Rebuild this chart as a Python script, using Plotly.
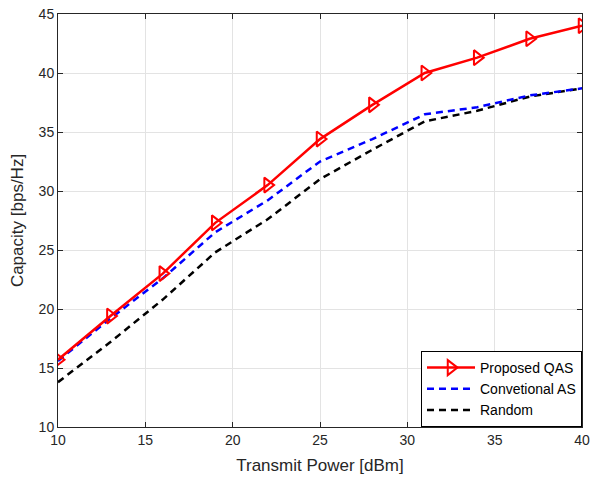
import plotly.graph_objects as go

power = [10, 13, 16, 19, 22, 25, 28, 31, 34, 37, 40]
proposed = [15.7, 19.4, 23.0, 27.3, 30.5, 34.4, 37.3, 40.0, 41.3, 42.9, 44.0]
conventional = [15.6, 19.2, 22.6, 26.5, 29.2, 32.5, 34.4, 36.5, 37.1, 38.1, 38.7]
random_sel = [13.8, 17.2, 20.8, 24.8, 27.6, 31.0, 33.5, 35.9, 36.8, 38.0, 38.7]

x_ticks = [10, 15, 20, 25, 30, 35, 40]
y_ticks = [10, 15, 20, 25, 30, 35, 40, 45]

FONT = "Liberation Sans, Arial, Helvetica"

fig = go.Figure()
fig.add_trace(go.Scatter(x=power, y=random_sel, mode="lines", name="Random",
                         line=dict(color="black", width=2.5, dash="7px,5px"), legendrank=3))
fig.add_trace(go.Scatter(x=power, y=conventional, mode="lines", name="Convetional AS",
                         line=dict(color="#0000ff", width=2.5, dash="7px,5px"), legendrank=2))
fig.add_trace(go.Scatter(x=power, y=proposed, mode="lines+markers", name="Proposed QAS",
                         line=dict(color="#ff0000", width=2.5),
                         marker=dict(symbol="triangle-right-open", size=13, color="#ff0000",
                                     line=dict(color="#ff0000", width=2)), legendrank=1))

axis_common = dict(showgrid=True, gridcolor="#e3e3e3", gridwidth=1, zeroline=False,
                   showline=True, linecolor="#262626", linewidth=1, mirror="ticks",
                   ticks="inside", ticklen=5, tickcolor="#262626", automargin=False,
                   tickfont=dict(family=FONT, size=14, color="#262626"))

fig.update_xaxes(range=[10, 40], tickvals=x_ticks, title=dict(text="Transmit Power [dBm]",
                 font=dict(family=FONT, size=17, color="#262626"), standoff=12),
                 **axis_common)
fig.update_yaxes(range=[10, 45], tickvals=y_ticks, title=dict(text="Capacity [bps/Hz]",
                 font=dict(family=FONT, size=17, color="#262626"), standoff=10),
                 **axis_common)

fig.update_layout(
    width=592, height=482,
    margin=dict(l=58, r=10, t=14, b=55),
    paper_bgcolor="white", plot_bgcolor="white",
    showlegend=True,
    legend=dict(x=1, y=0, xanchor="right", yanchor="bottom",
                bgcolor="white", bordercolor="black", borderwidth=1,
                font=dict(family=FONT, size=14, color="black"),
                itemwidth=48, tracegroupgap=0),
)

fig.write_html("out.html")
